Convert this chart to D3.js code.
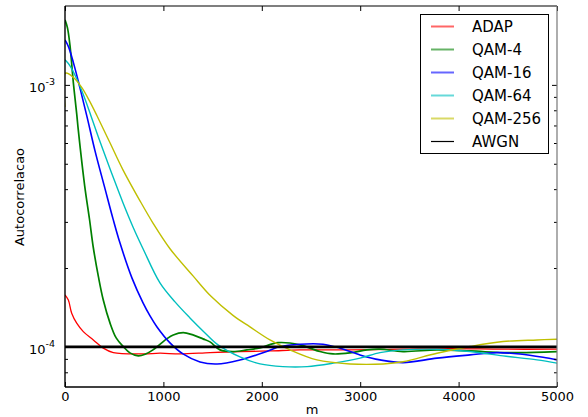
<!DOCTYPE html>
<html>
<head>
<meta charset="utf-8">
<script src="https://cdn.jsdelivr.net/npm/d3@7"></script>
<style>
  body { margin: 0; background: #fff; }
  svg text { font-family: "DejaVu Sans", sans-serif; fill: #000; }
</style>
</head>
<body>
<svg id="chart" width="588" height="417"></svg>
<script>
// values, autocorrelation in units of 1e-4
var names = ["ADAP", "QAM-4", "QAM-16", "QAM-64", "QAM-256", "AWGN"];
var colors = ["#ff0000", "#008000", "#0000ff", "#00bfbf", "#bfbf00", "#000000"];
var widths = [1.3, 1.7, 1.6, 1.4, 1.4, 2.6];

var adapM = [0, 34, 68, 119, 186, 288, 389, 491, 796, 966, 1169, 1474, 1778, 2083, 2388, 2896, 3435, 3913, 4451, 5000];
var adapV = [1.58, 1.51, 1.345, 1.232, 1.144, 1.063, 0.989, 0.951, 0.940, 0.946, 0.940, 0.951, 0.960, 0.965, 0.974, 0.974, 0.980, 0.985, 0.980, 0.980];

var qam4M = [0, 25, 50, 85, 120, 135, 200, 250, 288, 340, 389, 457, 520, 592, 660, 745, 820, 894, 1033, 1100, 1202, 1300, 1402, 1474, 1575, 1707, 1850, 1982, 2165, 2388, 2591, 2724, 2896, 3069, 3201, 3435, 3780, 4116, 4451, 4624, 5000];
var qam4V = [17.7, 16.5, 14.21, 10.18, 7.68, 6.73, 4.12, 3.05, 2.39, 1.85, 1.51, 1.235, 1.082, 1.003, 0.949, 0.924, 0.940, 0.974, 1.073, 1.111, 1.134, 1.111, 1.073, 1.045, 0.974, 0.960, 0.974, 0.991, 1.038, 1.018, 0.960, 0.940, 0.949, 0.974, 0.980, 0.960, 0.974, 0.965, 0.951, 0.951, 0.960];

var qam16M = [0, 36, 86, 152, 224, 305, 407, 488, 559, 681, 793, 864, 935, 1067, 1199, 1372, 1545, 1778, 2050, 2185, 2388, 2622, 2795, 2998, 3201, 3435, 3780, 4116, 4390, 4624, 4858, 5000];
var qam16V = [14.85, 13.97, 12.13, 9.74, 7.55, 5.60, 4.01, 3.08, 2.49, 1.83, 1.472, 1.313, 1.192, 1.036, 0.940, 0.876, 0.861, 0.892, 0.960, 1.003, 1.024, 1.024, 0.989, 0.932, 0.892, 0.871, 0.906, 0.932, 0.951, 0.940, 0.913, 0.892];

var qam64M = [0, 51, 122, 203, 274, 386, 488, 589, 691, 793, 965, 1118, 1270, 1423, 1555, 1778, 1982, 2215, 2460, 2727, 2998, 3201, 3435, 3780, 4116, 4451, 4797, 5000];
var qam64V = [12.46, 11.82, 10.49, 8.84, 7.42, 5.65, 4.46, 3.55, 2.87, 2.37, 1.755, 1.485, 1.29, 1.131, 1.018, 0.916, 0.861, 0.841, 0.841, 0.867, 0.906, 0.951, 0.974, 0.980, 0.960, 0.924, 0.892, 0.867];

var qam256M = [0, 5, 91, 173, 254, 325, 457, 589, 762, 894, 1067, 1301, 1484, 1707, 1880, 2083, 2287, 2560, 2896, 3235, 3435, 3780, 4116, 4451, 4797, 5000];
var qam256V = [8.24, 11.08, 10.63, 9.74, 8.61, 7.62, 6.01, 4.74, 3.61, 2.97, 2.37, 1.866, 1.559, 1.319, 1.192, 1.063, 0.974, 0.892, 0.861, 0.861, 0.878, 0.946, 1.003, 1.048, 1.063, 1.070];

var awgnM = [0, 1000, 2000, 3000, 4000, 5000];
var awgnV = [1.0, 1.0, 1.0, 1.0, 1.0, 1.0];

var xTicks = [0, 1000, 2000, 3000, 4000, 5000];
var yMajor = [1e-4, 1e-3];
var yMinor = [8e-5, 9e-5, 2e-4, 3e-4, 4e-4, 5e-4, 6e-4, 7e-4, 8e-4, 9e-4];

var allM = [adapM, qam4M, qam16M, qam64M, qam256M, awgnM];
var allV = [adapV, qam4V, qam16V, qam64V, qam256V, awgnV];

var series = names.map(function(n, i) {
  return {
    name: n,
    color: colors[i],
    width: widths[i],
    points: allM[i].map(function(m, j) { return [m, allV[i][j] * 1e-4]; })
  };
});

var pLeft = 65, pRight = 557, pTop = 6, pBottom = 387;
var svg = d3.select("#chart");

var x = d3.scaleLinear().domain([0, 5000]).range([pLeft, pRight]);
var y = d3.scaleLog().domain([7.03e-5, 2.0e-3]).range([pBottom, pTop]);

svg.append("clipPath").attr("id", "clip")
  .append("rect").attr("x", pLeft).attr("y", pTop)
  .attr("width", pRight - pLeft).attr("height", pBottom - pTop);

var line = d3.line()
  .x(function(d) { return x(d[0]); })
  .y(function(d) { return y(d[1]); })
  .curve(d3.curveCatmullRom.alpha(0.5));

var plot = svg.append("g").attr("clip-path", "url(#clip)");
plot.selectAll("path.series")
  .data(series)
  .enter().append("path")
  .attr("class", "series")
  .attr("d", function(d) { return line(d.points); })
  .attr("fill", "none")
  .attr("stroke", function(d) { return d.color; })
  .attr("stroke-width", function(d) { return d.width; });

// axes, ticks pointing inward
var xb = svg.append("g").attr("transform", "translate(0," + pBottom + ")")
  .call(d3.axisBottom(x).tickValues(xTicks).tickSize(-5).tickSizeOuter(0).tickPadding(5).tickFormat(d3.format("d")));
var xt = svg.append("g").attr("transform", "translate(0," + pTop + ")")
  .call(d3.axisTop(x).tickValues(xTicks).tickSize(-5).tickSizeOuter(0).tickFormat(""));
var yl = svg.append("g").attr("transform", "translate(" + pLeft + ",0)")
  .call(d3.axisLeft(y).tickValues(yMajor).tickSize(-5).tickSizeOuter(0).tickFormat(""));
var ylm = svg.append("g").attr("transform", "translate(" + pLeft + ",0)")
  .call(d3.axisLeft(y).tickValues(yMinor).tickSize(-3).tickSizeOuter(0).tickFormat(""));
var yr = svg.append("g").attr("transform", "translate(" + pRight + ",0)")
  .call(d3.axisRight(y).tickValues(yMajor).tickSize(-5).tickSizeOuter(0).tickFormat(""));
var yrm = svg.append("g").attr("transform", "translate(" + pRight + ",0)")
  .call(d3.axisRight(y).tickValues(yMinor).tickSize(-3).tickSizeOuter(0).tickFormat(""));

[xb, xt, yl, ylm, yr, yrm].forEach(function(g) {
  g.select(".domain").remove();
  g.selectAll("line").attr("stroke", "#000");
});
xb.selectAll("text").style("font-size", "13px").style("font-family", "DejaVu Sans");

// 10^n labels
yl.selectAll(".tick").each(function(d) {
  var t = d3.select(this).append("text")
    .attr("x", -10).attr("y", 7)
    .attr("text-anchor", "end")
    .style("font-size", "13px");
  t.append("tspan").text("10");
  t.append("tspan").attr("dy", -7).style("font-size", "9.5px")
    .text(Math.round(Math.log10(d)));
});

// frame
svg.append("line").attr("x1", pLeft).attr("x2", pRight).attr("y1", pTop).attr("y2", pTop)
  .attr("stroke", "#000").attr("stroke-width", 1.2);
svg.append("line").attr("x1", pRight).attr("x2", pRight).attr("y1", pTop).attr("y2", pBottom)
  .attr("stroke", "#777").attr("stroke-width", 1.2);
svg.append("line").attr("x1", pLeft).attr("x2", pLeft).attr("y1", pTop).attr("y2", pBottom)
  .attr("stroke", "#000").attr("stroke-width", 1.4);
svg.append("line").attr("x1", pLeft).attr("x2", pRight).attr("y1", pBottom).attr("y2", pBottom)
  .attr("stroke", "#000").attr("stroke-width", 1.4);

// axis titles
svg.append("text").attr("x", 312).attr("y", 414).attr("text-anchor", "middle")
  .style("font-size", "13px").text("m");
svg.append("text").attr("transform", "translate(24,197) rotate(-90)")
  .attr("text-anchor", "middle").style("font-size", "13px").text("Autocorrelacao");

// legend
var lg = svg.append("g");
lg.append("rect").attr("x", 420.5).attr("y", 14.5).attr("width", 128).attr("height", 139)
  .attr("fill", "#fff").attr("stroke", "#000").attr("stroke-width", 1);
var rows = lg.selectAll("g.row").data(series).enter().append("g")
  .attr("transform", function(d, i) { return "translate(0," + (26.5 + i * 23) + ")"; });
rows.append("line").attr("x1", 431).attr("x2", 454)
  .attr("stroke", function(d) { return d.color; })
  .attr("stroke-width", function(d) { return d.name == "AWGN" ? 1.2 : 2; })
  .attr("stroke-opacity", function(d) { return d.name == "AWGN" ? 1 : 0.6; });
rows.append("text").attr("x", 472).attr("y", 5.5)
  .style("font-size", "15px").text(function(d) { return d.name; });
</script>
</body>
</html>
